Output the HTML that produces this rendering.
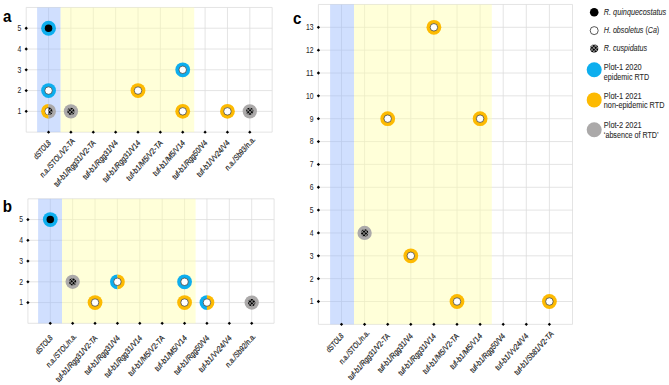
<!DOCTYPE html>
<html><head><meta charset="utf-8"><style>
html,body{margin:0;padding:0;background:#fff;width:669px;height:385px;overflow:hidden}
svg{display:block}
</style></head><body>
<svg width="669" height="385" viewBox="0 0 669 385" font-family="'Liberation Sans', sans-serif">
<defs>
<pattern id="pat" patternUnits="userSpaceOnUse" width="2.6" height="2.6" patternTransform="rotate(45)">
<rect width="2.6" height="2.6" fill="#000"/>
<rect x="1.0" y="0" width="0.6" height="2.6" fill="#b5b5b5"/>
<rect x="0" y="1.0" width="2.6" height="0.6" fill="#b5b5b5"/>
</pattern>
</defs>
<rect width="669" height="385" fill="#fff"/>
<path d="M26.2 7.45V132.13M48.56 7.45V132.13M70.92 7.45V132.13M93.28 7.45V132.13M115.64 7.45V132.13M138 7.45V132.13M160.36 7.45V132.13M182.72 7.45V132.13M205.08 7.45V132.13M227.44 7.45V132.13M249.8 7.45V132.13M272.16 7.45V132.13M26.2 7.45H272.16M26.2 28.23H272.16M26.2 49.01H272.16M26.2 69.79H272.16M26.2 90.57H272.16M26.2 111.35H272.16M26.2 132.13H272.16" stroke="#DDDDDD" stroke-width="0.8" fill="none"/>
<rect x="37.1" y="7.45" width="23.5" height="124.68" fill="#97B8FD" fill-opacity="0.45"/>
<rect x="60.6" y="7.45" width="133.6" height="124.68" fill="#FFFFAB" fill-opacity="0.45"/>
<path d="M48.56 130.48L50.21 132.13L48.56 133.78L46.91 132.13Z" fill="#000"/>
<path d="M70.92 130.48L72.57 132.13L70.92 133.78L69.27 132.13Z" fill="#000"/>
<path d="M93.28 130.48L94.93 132.13L93.28 133.78L91.63 132.13Z" fill="#000"/>
<path d="M115.64 130.48L117.29 132.13L115.64 133.78L113.99 132.13Z" fill="#000"/>
<path d="M138 130.48L139.65 132.13L138 133.78L136.35 132.13Z" fill="#000"/>
<path d="M160.36 130.48L162.01 132.13L160.36 133.78L158.71 132.13Z" fill="#000"/>
<path d="M182.72 130.48L184.37 132.13L182.72 133.78L181.07 132.13Z" fill="#000"/>
<path d="M205.08 130.48L206.73 132.13L205.08 133.78L203.43 132.13Z" fill="#000"/>
<path d="M227.44 130.48L229.09 132.13L227.44 133.78L225.79 132.13Z" fill="#000"/>
<path d="M249.8 130.48L251.45 132.13L249.8 133.78L248.15 132.13Z" fill="#000"/>
<path d="M26.2 109.7L27.85 111.35L26.2 113L24.55 111.35Z" fill="#000"/>
<text transform="translate(21.4 114.25) scale(0.85 1)" font-size="8.8" text-anchor="end" fill="#2a2a2a" stroke="#2a2a2a" stroke-width="0.06" textLength="4.46" lengthAdjust="spacingAndGlyphs">1</text>
<path d="M26.2 88.92L27.85 90.57L26.2 92.22L24.55 90.57Z" fill="#000"/>
<text transform="translate(21.4 93.47) scale(0.85 1)" font-size="8.8" text-anchor="end" fill="#2a2a2a" stroke="#2a2a2a" stroke-width="0.06" textLength="4.46" lengthAdjust="spacingAndGlyphs">2</text>
<path d="M26.2 68.14L27.85 69.79L26.2 71.44L24.55 69.79Z" fill="#000"/>
<text transform="translate(21.4 72.69) scale(0.85 1)" font-size="8.8" text-anchor="end" fill="#2a2a2a" stroke="#2a2a2a" stroke-width="0.06" textLength="4.46" lengthAdjust="spacingAndGlyphs">3</text>
<path d="M26.2 47.36L27.85 49.01L26.2 50.66L24.55 49.01Z" fill="#000"/>
<text transform="translate(21.4 51.91) scale(0.85 1)" font-size="8.8" text-anchor="end" fill="#2a2a2a" stroke="#2a2a2a" stroke-width="0.06" textLength="4.46" lengthAdjust="spacingAndGlyphs">4</text>
<path d="M26.2 26.58L27.85 28.23L26.2 29.88L24.55 28.23Z" fill="#000"/>
<text transform="translate(21.4 31.13) scale(0.85 1)" font-size="8.8" text-anchor="end" fill="#2a2a2a" stroke="#2a2a2a" stroke-width="0.06" textLength="4.46" lengthAdjust="spacingAndGlyphs">5</text>
<text transform="translate(51.26 143.43) scale(0.885 1) rotate(-45)" font-size="8.51" text-anchor="end" fill="#1e1e1e" stroke="#1e1e1e" stroke-width="0.22" textLength="23.27" lengthAdjust="spacingAndGlyphs">dSTOL8</text>
<text transform="translate(73.62 143.43) scale(0.885 1) rotate(-45) translate(2.5 0)" font-size="8.51" text-anchor="end" fill="#1e1e1e" stroke="#1e1e1e" stroke-width="0.22" textLength="51.36" lengthAdjust="spacingAndGlyphs">n.a./STOL/V2-TA</text>
<text transform="translate(95.98 143.43) scale(0.885 1) rotate(-45)" font-size="8.51" text-anchor="end" fill="#1e1e1e" stroke="#1e1e1e" stroke-width="0.22" textLength="62.48" lengthAdjust="spacingAndGlyphs">tuf-b1/Rgg31/V2-TA</text>
<text transform="translate(118.34 143.43) scale(0.885 1) rotate(-45)" font-size="8.51" text-anchor="end" fill="#1e1e1e" stroke="#1e1e1e" stroke-width="0.22" textLength="52.05" lengthAdjust="spacingAndGlyphs">tuf-b1/Rgg31/V4</text>
<text transform="translate(140.7 143.43) scale(0.885 1) rotate(-45)" font-size="8.51" text-anchor="end" fill="#1e1e1e" stroke="#1e1e1e" stroke-width="0.22" textLength="55.9" lengthAdjust="spacingAndGlyphs">tuf-b1/Rgg31/V14</text>
<text transform="translate(163.06 143.43) scale(0.885 1) rotate(-45)" font-size="8.51" text-anchor="end" fill="#1e1e1e" stroke="#1e1e1e" stroke-width="0.22" textLength="53.84" lengthAdjust="spacingAndGlyphs">tuf-b1/M5/V2-TA</text>
<text transform="translate(185.42 143.43) scale(0.885 1) rotate(-45)" font-size="8.51" text-anchor="end" fill="#1e1e1e" stroke="#1e1e1e" stroke-width="0.22" textLength="47.27" lengthAdjust="spacingAndGlyphs">tuf-b1/M5/V14</text>
<text transform="translate(207.78 143.43) scale(0.885 1) rotate(-45)" font-size="8.51" text-anchor="end" fill="#1e1e1e" stroke="#1e1e1e" stroke-width="0.22" textLength="52.05" lengthAdjust="spacingAndGlyphs">tuf-b1/Rgg50/V4</text>
<text transform="translate(230.14 143.43) scale(0.885 1) rotate(-45)" font-size="8.51" text-anchor="end" fill="#1e1e1e" stroke="#1e1e1e" stroke-width="0.22" textLength="48.51" lengthAdjust="spacingAndGlyphs">tuf-b1/Vv24/V4</text>
<text transform="translate(252.5 143.43) scale(0.885 1) rotate(-45) translate(5 0)" font-size="8.51" text-anchor="end" fill="#1e1e1e" stroke="#1e1e1e" stroke-width="0.22" textLength="44" lengthAdjust="spacingAndGlyphs">n.a./Sb93/n.a.</text>
<circle cx="48.56" cy="28.23" r="7.4" fill="#0DAEEE"/><circle cx="48.56" cy="28.23" r="3.75" fill="#000"/>
<circle cx="48.56" cy="90.57" r="7.4" fill="#0DAEEE"/><circle cx="48.56" cy="90.57" r="3.75" fill="#fff" stroke="#333" stroke-width="0.7"/>
<path d="M48.56 103.95A7.4 7.4 0 0 0 48.56 118.75Z" fill="#FDBA02"/><path d="M48.56 103.95A7.4 7.4 0 0 1 48.56 118.75Z" fill="#ABA9A9"/><circle cx="48.56" cy="111.35" r="3.75" fill="#333"/><path d="M48.56 108A3.35 3.35 0 0 0 48.56 114.7Z" fill="#fff"/><path d="M48.56 107.6A3.75 3.75 0 0 1 48.56 115.1Z" fill="url(#pat)"/>
<circle cx="70.92" cy="111.35" r="7.15" fill="#ABA9A9"/><circle cx="70.92" cy="111.35" r="3.65" fill="url(#pat)"/>
<circle cx="138" cy="90.57" r="7.4" fill="#FDBA02"/><circle cx="138" cy="90.57" r="3.75" fill="#fff" stroke="#333" stroke-width="0.7"/>
<circle cx="182.72" cy="69.79" r="7.4" fill="#0DAEEE"/><circle cx="182.72" cy="69.79" r="3.75" fill="#fff" stroke="#333" stroke-width="0.7"/>
<circle cx="182.72" cy="111.35" r="7.4" fill="#FDBA02"/><circle cx="182.72" cy="111.35" r="3.75" fill="#fff" stroke="#333" stroke-width="0.7"/>
<circle cx="227.44" cy="111.35" r="7.4" fill="#FDBA02"/><circle cx="227.44" cy="111.35" r="3.75" fill="#fff" stroke="#333" stroke-width="0.7"/>
<circle cx="249.8" cy="111.35" r="7.15" fill="#ABA9A9"/><circle cx="249.8" cy="111.35" r="3.65" fill="url(#pat)"/>
<text transform="translate(3 21.8) scale(0.92 1)" font-size="16.5" font-weight="bold" fill="#000">a</text>
<path d="M27.9 198.8V323.3M50.28 198.8V323.3M72.66 198.8V323.3M95.04 198.8V323.3M117.42 198.8V323.3M139.8 198.8V323.3M162.18 198.8V323.3M184.56 198.8V323.3M206.94 198.8V323.3M229.32 198.8V323.3M251.7 198.8V323.3M274.08 198.8V323.3M27.9 198.8H274.08M27.9 219.55H274.08M27.9 240.3H274.08M27.9 261.05H274.08M27.9 281.8H274.08M27.9 302.55H274.08M27.9 323.3H274.08" stroke="#DDDDDD" stroke-width="0.8" fill="none"/>
<rect x="38.1" y="198.8" width="23.9" height="124.5" fill="#97B8FD" fill-opacity="0.45"/>
<rect x="62" y="198.8" width="133.6" height="124.5" fill="#FFFFAB" fill-opacity="0.45"/>
<path d="M50.28 321.65L51.93 323.3L50.28 324.95L48.63 323.3Z" fill="#000"/>
<path d="M72.66 321.65L74.31 323.3L72.66 324.95L71.01 323.3Z" fill="#000"/>
<path d="M95.04 321.65L96.69 323.3L95.04 324.95L93.39 323.3Z" fill="#000"/>
<path d="M117.42 321.65L119.07 323.3L117.42 324.95L115.77 323.3Z" fill="#000"/>
<path d="M139.8 321.65L141.45 323.3L139.8 324.95L138.15 323.3Z" fill="#000"/>
<path d="M162.18 321.65L163.83 323.3L162.18 324.95L160.53 323.3Z" fill="#000"/>
<path d="M184.56 321.65L186.21 323.3L184.56 324.95L182.91 323.3Z" fill="#000"/>
<path d="M206.94 321.65L208.59 323.3L206.94 324.95L205.29 323.3Z" fill="#000"/>
<path d="M229.32 321.65L230.97 323.3L229.32 324.95L227.67 323.3Z" fill="#000"/>
<path d="M251.7 321.65L253.35 323.3L251.7 324.95L250.05 323.3Z" fill="#000"/>
<path d="M27.9 300.9L29.55 302.55L27.9 304.2L26.25 302.55Z" fill="#000"/>
<text transform="translate(23.1 305.45) scale(0.85 1)" font-size="8.8" text-anchor="end" fill="#2a2a2a" stroke="#2a2a2a" stroke-width="0.06" textLength="4.46" lengthAdjust="spacingAndGlyphs">1</text>
<path d="M27.9 280.15L29.55 281.8L27.9 283.45L26.25 281.8Z" fill="#000"/>
<text transform="translate(23.1 284.7) scale(0.85 1)" font-size="8.8" text-anchor="end" fill="#2a2a2a" stroke="#2a2a2a" stroke-width="0.06" textLength="4.46" lengthAdjust="spacingAndGlyphs">2</text>
<path d="M27.9 259.4L29.55 261.05L27.9 262.7L26.25 261.05Z" fill="#000"/>
<text transform="translate(23.1 263.95) scale(0.85 1)" font-size="8.8" text-anchor="end" fill="#2a2a2a" stroke="#2a2a2a" stroke-width="0.06" textLength="4.46" lengthAdjust="spacingAndGlyphs">3</text>
<path d="M27.9 238.65L29.55 240.3L27.9 241.95L26.25 240.3Z" fill="#000"/>
<text transform="translate(23.1 243.2) scale(0.85 1)" font-size="8.8" text-anchor="end" fill="#2a2a2a" stroke="#2a2a2a" stroke-width="0.06" textLength="4.46" lengthAdjust="spacingAndGlyphs">4</text>
<path d="M27.9 217.9L29.55 219.55L27.9 221.2L26.25 219.55Z" fill="#000"/>
<text transform="translate(23.1 222.45) scale(0.85 1)" font-size="8.8" text-anchor="end" fill="#2a2a2a" stroke="#2a2a2a" stroke-width="0.06" textLength="4.46" lengthAdjust="spacingAndGlyphs">5</text>
<text transform="translate(52.98 338.6) scale(0.885 1) rotate(-45)" font-size="8.51" text-anchor="end" fill="#1e1e1e" stroke="#1e1e1e" stroke-width="0.22" textLength="23.27" lengthAdjust="spacingAndGlyphs">dSTOL8</text>
<text transform="translate(75.36 338.6) scale(0.885 1) rotate(-45) translate(2.5 0)" font-size="8.51" text-anchor="end" fill="#1e1e1e" stroke="#1e1e1e" stroke-width="0.22" textLength="44.23" lengthAdjust="spacingAndGlyphs">n.a./STOL/n.a.</text>
<text transform="translate(97.74 338.6) scale(0.885 1) rotate(-45)" font-size="8.51" text-anchor="end" fill="#1e1e1e" stroke="#1e1e1e" stroke-width="0.22" textLength="62.48" lengthAdjust="spacingAndGlyphs">tuf-b1/Rgg31/V2-TA</text>
<text transform="translate(120.12 338.6) scale(0.885 1) rotate(-45)" font-size="8.51" text-anchor="end" fill="#1e1e1e" stroke="#1e1e1e" stroke-width="0.22" textLength="52.05" lengthAdjust="spacingAndGlyphs">tuf-b1/Rgg31/V4</text>
<text transform="translate(142.5 338.6) scale(0.885 1) rotate(-45)" font-size="8.51" text-anchor="end" fill="#1e1e1e" stroke="#1e1e1e" stroke-width="0.22" textLength="55.9" lengthAdjust="spacingAndGlyphs">tuf-b1/Rgg31/V14</text>
<text transform="translate(164.88 338.6) scale(0.885 1) rotate(-45)" font-size="8.51" text-anchor="end" fill="#1e1e1e" stroke="#1e1e1e" stroke-width="0.22" textLength="53.84" lengthAdjust="spacingAndGlyphs">tuf-b1/M5/V2-TA</text>
<text transform="translate(187.26 338.6) scale(0.885 1) rotate(-45)" font-size="8.51" text-anchor="end" fill="#1e1e1e" stroke="#1e1e1e" stroke-width="0.22" textLength="47.27" lengthAdjust="spacingAndGlyphs">tuf-b1/M5/V14</text>
<text transform="translate(209.64 338.6) scale(0.885 1) rotate(-45)" font-size="8.51" text-anchor="end" fill="#1e1e1e" stroke="#1e1e1e" stroke-width="0.22" textLength="52.05" lengthAdjust="spacingAndGlyphs">tuf-b1/Rgg50/V4</text>
<text transform="translate(232.02 338.6) scale(0.885 1) rotate(-45)" font-size="8.51" text-anchor="end" fill="#1e1e1e" stroke="#1e1e1e" stroke-width="0.22" textLength="48.51" lengthAdjust="spacingAndGlyphs">tuf-b1/Vv24/V4</text>
<text transform="translate(254.4 338.6) scale(0.885 1) rotate(-45) translate(2.5 0)" font-size="8.51" text-anchor="end" fill="#1e1e1e" stroke="#1e1e1e" stroke-width="0.22" textLength="44" lengthAdjust="spacingAndGlyphs">n.a./Sb92/n.a.</text>
<circle cx="50.28" cy="219.55" r="7.4" fill="#0DAEEE"/><circle cx="50.28" cy="219.55" r="3.75" fill="#000"/>
<circle cx="72.66" cy="281.8" r="7.15" fill="#ABA9A9"/><circle cx="72.66" cy="281.8" r="3.65" fill="url(#pat)"/>
<circle cx="95.04" cy="302.55" r="7.4" fill="#FDBA02"/><circle cx="95.04" cy="302.55" r="3.75" fill="#fff" stroke="#333" stroke-width="0.7"/>
<path d="M117.42 274.4A7.4 7.4 0 0 0 117.42 289.2Z" fill="#0DAEEE"/><path d="M117.42 274.4A7.4 7.4 0 0 1 117.42 289.2Z" fill="#FDBA02"/><circle cx="117.42" cy="281.8" r="3.75" fill="#fff" stroke="#333" stroke-width="0.7"/>
<circle cx="184.56" cy="281.8" r="7.4" fill="#0DAEEE"/><circle cx="184.56" cy="281.8" r="3.75" fill="#fff" stroke="#333" stroke-width="0.7"/>
<circle cx="184.56" cy="302.55" r="7.4" fill="#FDBA02"/><circle cx="184.56" cy="302.55" r="3.75" fill="#fff" stroke="#333" stroke-width="0.7"/>
<path d="M206.94 295.15A7.4 7.4 0 0 0 206.94 309.95Z" fill="#0DAEEE"/><path d="M206.94 295.15A7.4 7.4 0 0 1 206.94 309.95Z" fill="#FDBA02"/><circle cx="206.94" cy="302.55" r="3.75" fill="#fff" stroke="#333" stroke-width="0.7"/>
<circle cx="251.7" cy="302.55" r="7.15" fill="#ABA9A9"/><circle cx="251.7" cy="302.55" r="3.65" fill="url(#pat)"/>
<text transform="translate(2.8 212.3) scale(0.92 1)" font-size="16.5" font-weight="bold" fill="#000">b</text>
<path d="M318.4 4.45V324.35M341.5 4.45V324.35M364.6 4.45V324.35M387.7 4.45V324.35M410.8 4.45V324.35M433.9 4.45V324.35M457 4.45V324.35M480.1 4.45V324.35M503.2 4.45V324.35M526.3 4.45V324.35M549.4 4.45V324.35M572.5 4.45V324.35M318.4 4.45H572.5M318.4 27.3H572.5M318.4 50.15H572.5M318.4 73H572.5M318.4 95.85H572.5M318.4 118.7H572.5M318.4 141.55H572.5M318.4 164.4H572.5M318.4 187.25H572.5M318.4 210.1H572.5M318.4 232.95H572.5M318.4 255.8H572.5M318.4 278.65H572.5M318.4 301.5H572.5M318.4 324.35H572.5" stroke="#DDDDDD" stroke-width="0.8" fill="none"/>
<rect x="330.1" y="4.45" width="23.9" height="319.9" fill="#97B8FD" fill-opacity="0.45"/>
<rect x="354" y="4.45" width="137.8" height="319.9" fill="#FFFFAB" fill-opacity="0.45"/>
<path d="M341.5 322.7L343.15 324.35L341.5 326L339.85 324.35Z" fill="#000"/>
<path d="M364.6 322.7L366.25 324.35L364.6 326L362.95 324.35Z" fill="#000"/>
<path d="M387.7 322.7L389.35 324.35L387.7 326L386.05 324.35Z" fill="#000"/>
<path d="M410.8 322.7L412.45 324.35L410.8 326L409.15 324.35Z" fill="#000"/>
<path d="M433.9 322.7L435.55 324.35L433.9 326L432.25 324.35Z" fill="#000"/>
<path d="M457 322.7L458.65 324.35L457 326L455.35 324.35Z" fill="#000"/>
<path d="M480.1 322.7L481.75 324.35L480.1 326L478.45 324.35Z" fill="#000"/>
<path d="M503.2 322.7L504.85 324.35L503.2 326L501.55 324.35Z" fill="#000"/>
<path d="M526.3 322.7L527.95 324.35L526.3 326L524.65 324.35Z" fill="#000"/>
<path d="M549.4 322.7L551.05 324.35L549.4 326L547.75 324.35Z" fill="#000"/>
<path d="M318.4 299.85L320.05 301.5L318.4 303.15L316.75 301.5Z" fill="#000"/>
<text transform="translate(313.6 304.4) scale(0.85 1)" font-size="8.8" text-anchor="end" fill="#2a2a2a" stroke="#2a2a2a" stroke-width="0.06" textLength="4.46" lengthAdjust="spacingAndGlyphs">1</text>
<path d="M318.4 277L320.05 278.65L318.4 280.3L316.75 278.65Z" fill="#000"/>
<text transform="translate(313.6 281.55) scale(0.85 1)" font-size="8.8" text-anchor="end" fill="#2a2a2a" stroke="#2a2a2a" stroke-width="0.06" textLength="4.46" lengthAdjust="spacingAndGlyphs">2</text>
<path d="M318.4 254.15L320.05 255.8L318.4 257.45L316.75 255.8Z" fill="#000"/>
<text transform="translate(313.6 258.7) scale(0.85 1)" font-size="8.8" text-anchor="end" fill="#2a2a2a" stroke="#2a2a2a" stroke-width="0.06" textLength="4.46" lengthAdjust="spacingAndGlyphs">3</text>
<path d="M318.4 231.3L320.05 232.95L318.4 234.6L316.75 232.95Z" fill="#000"/>
<text transform="translate(313.6 235.85) scale(0.85 1)" font-size="8.8" text-anchor="end" fill="#2a2a2a" stroke="#2a2a2a" stroke-width="0.06" textLength="4.46" lengthAdjust="spacingAndGlyphs">4</text>
<path d="M318.4 208.45L320.05 210.1L318.4 211.75L316.75 210.1Z" fill="#000"/>
<text transform="translate(313.6 213) scale(0.85 1)" font-size="8.8" text-anchor="end" fill="#2a2a2a" stroke="#2a2a2a" stroke-width="0.06" textLength="4.46" lengthAdjust="spacingAndGlyphs">5</text>
<path d="M318.4 185.6L320.05 187.25L318.4 188.9L316.75 187.25Z" fill="#000"/>
<text transform="translate(313.6 190.15) scale(0.85 1)" font-size="8.8" text-anchor="end" fill="#2a2a2a" stroke="#2a2a2a" stroke-width="0.06" textLength="4.46" lengthAdjust="spacingAndGlyphs">6</text>
<path d="M318.4 162.75L320.05 164.4L318.4 166.05L316.75 164.4Z" fill="#000"/>
<text transform="translate(313.6 167.3) scale(0.85 1)" font-size="8.8" text-anchor="end" fill="#2a2a2a" stroke="#2a2a2a" stroke-width="0.06" textLength="4.46" lengthAdjust="spacingAndGlyphs">7</text>
<path d="M318.4 139.9L320.05 141.55L318.4 143.2L316.75 141.55Z" fill="#000"/>
<text transform="translate(313.6 144.45) scale(0.85 1)" font-size="8.8" text-anchor="end" fill="#2a2a2a" stroke="#2a2a2a" stroke-width="0.06" textLength="4.46" lengthAdjust="spacingAndGlyphs">8</text>
<path d="M318.4 117.05L320.05 118.7L318.4 120.35L316.75 118.7Z" fill="#000"/>
<text transform="translate(313.6 121.6) scale(0.85 1)" font-size="8.8" text-anchor="end" fill="#2a2a2a" stroke="#2a2a2a" stroke-width="0.06" textLength="4.46" lengthAdjust="spacingAndGlyphs">9</text>
<path d="M318.4 94.2L320.05 95.85L318.4 97.5L316.75 95.85Z" fill="#000"/>
<text transform="translate(313.6 98.75) scale(0.85 1)" font-size="8.8" text-anchor="end" fill="#2a2a2a" stroke="#2a2a2a" stroke-width="0.06" textLength="8.92" lengthAdjust="spacingAndGlyphs">10</text>
<path d="M318.4 71.35L320.05 73L318.4 74.65L316.75 73Z" fill="#000"/>
<text transform="translate(313.6 75.9) scale(0.85 1)" font-size="8.8" text-anchor="end" fill="#2a2a2a" stroke="#2a2a2a" stroke-width="0.06" textLength="8.92" lengthAdjust="spacingAndGlyphs">11</text>
<path d="M318.4 48.5L320.05 50.15L318.4 51.8L316.75 50.15Z" fill="#000"/>
<text transform="translate(313.6 53.05) scale(0.85 1)" font-size="8.8" text-anchor="end" fill="#2a2a2a" stroke="#2a2a2a" stroke-width="0.06" textLength="8.92" lengthAdjust="spacingAndGlyphs">12</text>
<path d="M318.4 25.65L320.05 27.3L318.4 28.95L316.75 27.3Z" fill="#000"/>
<text transform="translate(313.6 30.2) scale(0.85 1)" font-size="8.8" text-anchor="end" fill="#2a2a2a" stroke="#2a2a2a" stroke-width="0.06" textLength="8.92" lengthAdjust="spacingAndGlyphs">13</text>
<text transform="translate(343.9 336.65) scale(0.885 1) rotate(-45)" font-size="8.51" text-anchor="end" fill="#1e1e1e" stroke="#1e1e1e" stroke-width="0.22" textLength="23.27" lengthAdjust="spacingAndGlyphs">dSTOL8</text>
<text transform="translate(367 336.65) scale(0.885 1) rotate(-45) translate(4.5 0)" font-size="8.51" text-anchor="end" fill="#1e1e1e" stroke="#1e1e1e" stroke-width="0.22" textLength="44.23" lengthAdjust="spacingAndGlyphs">n.a./STOL/n.a.</text>
<text transform="translate(390.1 336.65) scale(0.885 1) rotate(-45)" font-size="8.51" text-anchor="end" fill="#1e1e1e" stroke="#1e1e1e" stroke-width="0.22" textLength="62.48" lengthAdjust="spacingAndGlyphs">tuf-b1/Rgg31/V2-TA</text>
<text transform="translate(413.2 336.65) scale(0.885 1) rotate(-45)" font-size="8.51" text-anchor="end" fill="#1e1e1e" stroke="#1e1e1e" stroke-width="0.22" textLength="52.05" lengthAdjust="spacingAndGlyphs">tuf-b1/Rgg31/V4</text>
<text transform="translate(436.3 336.65) scale(0.885 1) rotate(-45)" font-size="8.51" text-anchor="end" fill="#1e1e1e" stroke="#1e1e1e" stroke-width="0.22" textLength="55.9" lengthAdjust="spacingAndGlyphs">tuf-b1/Rgg31/V14</text>
<text transform="translate(459.4 336.65) scale(0.885 1) rotate(-45)" font-size="8.51" text-anchor="end" fill="#1e1e1e" stroke="#1e1e1e" stroke-width="0.22" textLength="53.84" lengthAdjust="spacingAndGlyphs">tuf-b1/M5/V2-TA</text>
<text transform="translate(482.5 336.65) scale(0.885 1) rotate(-45)" font-size="8.51" text-anchor="end" fill="#1e1e1e" stroke="#1e1e1e" stroke-width="0.22" textLength="47.27" lengthAdjust="spacingAndGlyphs">tuf-b1/M5/V14</text>
<text transform="translate(505.6 336.65) scale(0.885 1) rotate(-45)" font-size="8.51" text-anchor="end" fill="#1e1e1e" stroke="#1e1e1e" stroke-width="0.22" textLength="52.05" lengthAdjust="spacingAndGlyphs">tuf-b1/Rgg50/V4</text>
<text transform="translate(528.7 336.65) scale(0.885 1) rotate(-45)" font-size="8.51" text-anchor="end" fill="#1e1e1e" stroke="#1e1e1e" stroke-width="0.22" textLength="48.51" lengthAdjust="spacingAndGlyphs">tuf-b1/Vv24/V4</text>
<text transform="translate(551.8 336.65) scale(0.885 1) rotate(-45) translate(3.3 0)" font-size="8.51" text-anchor="end" fill="#1e1e1e" stroke="#1e1e1e" stroke-width="0.22" textLength="58.68" lengthAdjust="spacingAndGlyphs">tuf-b1/Sb81/V2-TA</text>
<circle cx="364.6" cy="232.95" r="7.15" fill="#ABA9A9"/><circle cx="364.6" cy="232.95" r="3.65" fill="url(#pat)"/>
<circle cx="387.7" cy="118.7" r="7.4" fill="#FDBA02"/><circle cx="387.7" cy="118.7" r="3.75" fill="#fff" stroke="#333" stroke-width="0.7"/>
<circle cx="410.8" cy="255.8" r="7.4" fill="#FDBA02"/><circle cx="410.8" cy="255.8" r="3.75" fill="#fff" stroke="#333" stroke-width="0.7"/>
<circle cx="433.9" cy="27.3" r="7.4" fill="#FDBA02"/><circle cx="433.9" cy="27.3" r="3.75" fill="#fff" stroke="#333" stroke-width="0.7"/>
<circle cx="457" cy="301.5" r="7.4" fill="#FDBA02"/><circle cx="457" cy="301.5" r="3.75" fill="#fff" stroke="#333" stroke-width="0.7"/>
<circle cx="480.1" cy="118.7" r="7.4" fill="#FDBA02"/><circle cx="480.1" cy="118.7" r="3.75" fill="#fff" stroke="#333" stroke-width="0.7"/>
<circle cx="549.4" cy="301.5" r="7.4" fill="#FDBA02"/><circle cx="549.4" cy="301.5" r="3.75" fill="#fff" stroke="#333" stroke-width="0.7"/>
<text transform="translate(293 24.1) scale(0.92 1)" font-size="16.5" font-weight="bold" fill="#000">c</text>
<circle cx="594.2" cy="12.2" r="4.3" fill="#000"/>
<circle cx="594.2" cy="30.6" r="4.0" fill="#fff" stroke="#111" stroke-width="0.7"/>
<circle cx="594.2" cy="48.6" r="4.1" fill="url(#pat)"/>
<circle cx="594.2" cy="69.7" r="7.5" fill="#0DAEEE"/>
<circle cx="594.2" cy="99.9" r="7.5" fill="#FDBA02"/>
<circle cx="594.2" cy="129.8" r="7.5" fill="#ABA9A9"/>
<text transform="translate(603.8 14.8)" font-size="8.59" font-style="italic" text-anchor="start" fill="#2a2a2a" stroke="#2a2a2a" stroke-width="0.08" textLength="62.41" lengthAdjust="spacingAndGlyphs">R. quinquecostatus</text>
<text transform="translate(603.8 33.3)" font-size="8.59" fill="#2a2a2a" stroke="#2a2a2a" stroke-width="0.08" textLength="55.45" lengthAdjust="spacingAndGlyphs"><tspan font-style="italic">H. obsoletus </tspan>(<tspan font-style="italic">Ca</tspan>)</text>
<text transform="translate(603.8 51.3)" font-size="8.59" font-style="italic" text-anchor="start" fill="#2a2a2a" stroke="#2a2a2a" stroke-width="0.08" textLength="43.34" lengthAdjust="spacingAndGlyphs">R. cuspidatus</text>
<text transform="translate(603.8 69.9)" font-size="8.59" text-anchor="start" fill="#2a2a2a" stroke="#2a2a2a" stroke-width="0.08" textLength="37.87" lengthAdjust="spacingAndGlyphs">Plot-1 2020</text>
<text transform="translate(603.8 79.6)" font-size="8.59" text-anchor="start" fill="#2a2a2a" stroke="#2a2a2a" stroke-width="0.08" textLength="45.34" lengthAdjust="spacingAndGlyphs">epidemic RTD</text>
<text transform="translate(603.8 98.5)" font-size="8.59" text-anchor="start" fill="#2a2a2a" stroke="#2a2a2a" stroke-width="0.08" textLength="37.87" lengthAdjust="spacingAndGlyphs">Plot-1 2021</text>
<text transform="translate(603.8 108)" font-size="8.59" text-anchor="start" fill="#2a2a2a" stroke="#2a2a2a" stroke-width="0.08" textLength="60.61" lengthAdjust="spacingAndGlyphs">non-epidemic RTD</text>
<text transform="translate(603.8 128.2)" font-size="8.59" text-anchor="start" fill="#2a2a2a" stroke="#2a2a2a" stroke-width="0.08" textLength="37.87" lengthAdjust="spacingAndGlyphs">Plot-2 2021</text>
<text transform="translate(603.8 137.9)" font-size="8.59" text-anchor="start" fill="#2a2a2a" stroke="#2a2a2a" stroke-width="0.08" textLength="54.82" lengthAdjust="spacingAndGlyphs">‘absence of RTD’</text>
</svg>
</body></html>
